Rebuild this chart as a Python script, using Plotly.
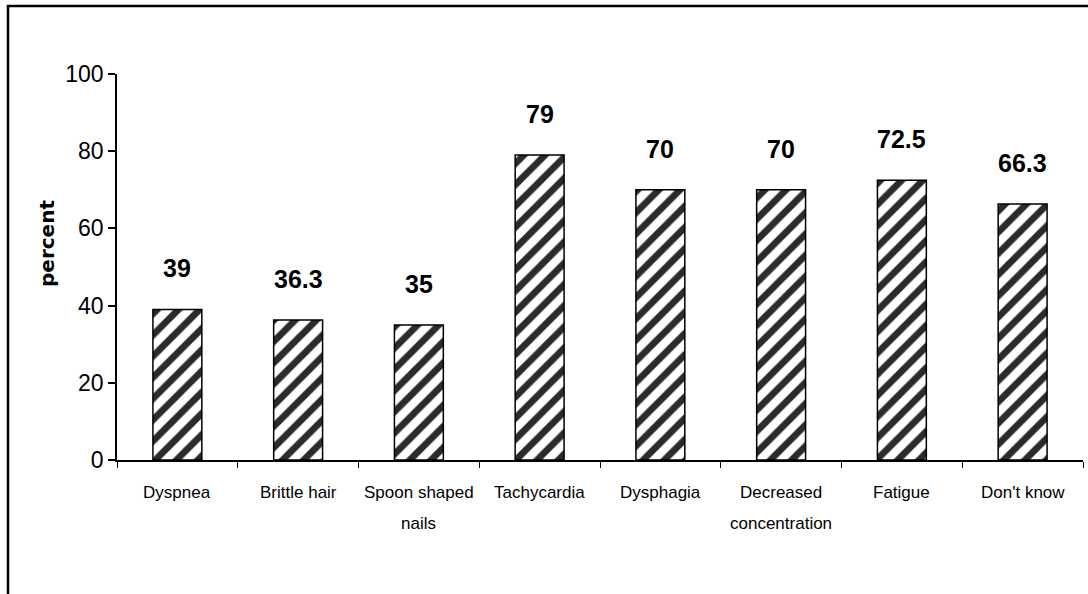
import plotly.graph_objects as go

# Reported symptoms of anaemia and the share of respondents naming each
categories = ["Dyspnea", "Brittle hair", "Spoon shaped nails", "Tachycardia",
              "Dysphagia", "Decreased concentration", "Fatigue", "Don't know"]
category_lines = [["Dyspnea"], ["Brittle hair"], ["Spoon shaped", "nails"],
                  ["Tachycardia"], ["Dysphagia"], ["Decreased", "concentration"],
                  ["Fatigue"], ["Don't know"]]
percent = [39, 36.3, 35, 79, 70, 70, 72.5, 66.3]
value_labels = ["39", "36.3", "35", "79", "70", "70", "72.5", "66.3"]
y_ticks = [0, 20, 40, 60, 80, 100]

SANS = "Liberation Sans, Arial, sans-serif"
PLOT_H = 386  # plot-area height in px, used for paper-coordinate offsets

fig = go.Figure()
fig.add_trace(go.Bar(
    x=categories,
    y=percent,
    width=0.405,
    marker=dict(
        color="white",
        line=dict(color="black", width=1.5),
        pattern=dict(shape="/", fgcolor="#2b2b2b", bgcolor="white",
                     fgopacity=1, size=15, solidity=0.45),
    ),
    showlegend=False,
    hoverinfo="x+y",
))

# Value labels above each bar
for cat, val, lab in zip(categories, percent, value_labels):
    fig.add_annotation(
        x=cat, y=val, text=lab, showarrow=False,
        yanchor="bottom", yshift=25,
        font=dict(family=SANS, size=25, color="black", weight="bold"),
    )

# Category labels under the axis, one annotation per text line
for cat, lines in zip(categories, category_lines):
    for i, line in enumerate(lines):
        fig.add_annotation(
            x=cat, xref="x", yref="paper",
            y=-(32 + 31 * i) / PLOT_H, text=line, showarrow=False,
            xanchor="center", yanchor="middle",
            font=dict(family=SANS, size=17, color="black"),
        )

# Y-axis title
fig.add_annotation(
    xref="paper", yref="paper", x=(47 - 117) / 966, y=(460 - 244) / PLOT_H,
    text="percent", textangle=-90, showarrow=False,
    xanchor="center", yanchor="middle",
    font=dict(family="DejaVu Sans, sans-serif", size=20, color="black",
              weight="bold"),
)

# Outer frame around the chart
fig.add_shape(
    type="rect", xref="paper", yref="paper",
    x0=(8 - 117) / 966, x1=(1100 - 117) / 966,
    y0=(460 - 610) / PLOT_H, y1=(460 - 6) / PLOT_H,
    line=dict(color="black", width=2.5), fillcolor="rgba(0,0,0,0)",
    layer="below",
)

fig.update_layout(
    width=1088, height=594,
    margin=dict(l=117, r=5, t=74, b=134, autoexpand=False),
    paper_bgcolor="white", plot_bgcolor="white",
    xaxis=dict(
        showline=True, linecolor="black", linewidth=1.5,
        ticks="outside", tickson="boundaries", ticklen=6, tickcolor="black",
        showticklabels=False, automargin=False,
        showgrid=False,
    ),
    yaxis=dict(
        range=[0, 100], tickvals=y_ticks, automargin=False,
        showline=True, linecolor="black", linewidth=1.5,
        ticks="outside", ticklen=7, tickcolor="black", tickwidth=1.5,
        tickfont=dict(family=SANS, size=23, color="black"),
        showgrid=False, zeroline=False,
    ),
)

fig.write_html("out.html")
